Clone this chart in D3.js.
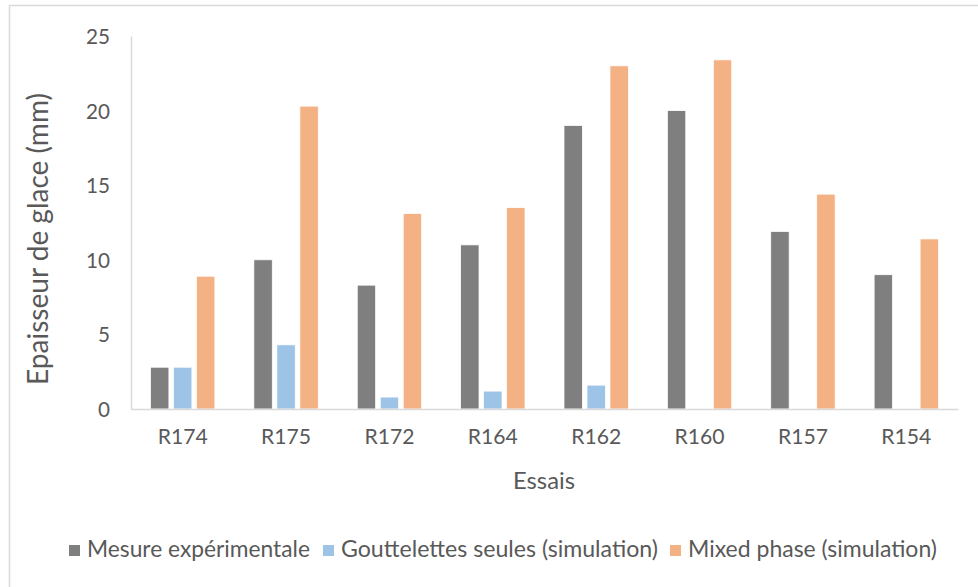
<!DOCTYPE html>
<html>
<head>
<meta charset="utf-8">
<script src="https://cdn.jsdelivr.net/npm/d3@7"></script>
<style>
  html, body { margin: 0; padding: 0; background: #fff; }
  svg { display: block; }
  text { font-family: Lato, "Open Sans", sans-serif; fill: #595959; }
</style>
</head>
<body>
<svg id="chart" width="978" height="587"></svg>
<script>
const categories = ["R174", "R175", "R172", "R164", "R162", "R160", "R157", "R154"];
const seriesNames = ["Mesure expérimentale", "Gouttelettes seules (simulation)", "Mixed phase (simulation)"];
const mesure = [2.8, 10.0, 8.3, 11.0, 19.0, 20.0, 11.9, 9.0];
const gouttelettes = [2.8, 4.3, 0.8, 1.2, 1.6, null, null, null];
const mixed = [8.9, 20.3, 13.1, 13.5, 23.0, 23.4, 14.4, 11.4];
const yTicks = [0, 5, 10, 15, 20, 25];
const colors = ["#7f7f7f", "#9dc3e6", "#f4b183"];
const xTitle = "Essais";
const yTitle = "Epaisseur de glace (mm)";

const seriesValues = [mesure, gouttelettes, mixed];

const svg = d3.select("#chart");
const plotLeft = 131, plotRight = 958, plotTop = 36, plotBottom = 409;

// chart frame
svg.append("rect").attr("x", 9.5).attr("y", 5.5).attr("width", 1000).attr("height", 620)
  .attr("fill", "none").attr("stroke", "#d9d9d9").attr("stroke-width", 1.5);

const x0 = d3.scaleBand().domain(categories).range([plotLeft, plotRight]).paddingInner(0).paddingOuter(0);
const x1 = d3.scaleBand().domain(d3.range(seriesNames.length)).range([0, x0.bandwidth()])
  .paddingInner(0.2).paddingOuter(0.848);
const y = d3.scaleLinear().domain([0, 25]).range([plotBottom, plotTop]);

function fitText(sel, target) {
  let fs = parseFloat(sel.attr("font-size"));
  const w = sel.node().getComputedTextLength();
  if (w > 0) sel.attr("font-size", (fs * target / w).toFixed(2));
}
function fitSize(sel, target, fs) {
  const w = sel.node().getComputedTextLength();
  return w > 0 ? fs * target / w : fs;
}

// bars
seriesValues.forEach((vals, si) => {
  svg.append("g").selectAll("rect")
    .data(categories.map((c, i) => ({c, v: vals[i]})).filter(d => d.v != null))
    .join("rect")
    .attr("x", d => x0(d.c) + x1(si))
    .attr("width", x1.bandwidth())
    .attr("y", d => y(d.v))
    .attr("height", d => y(0) - y(d.v))
    .attr("fill", colors[si])
    .attr("stroke", "#fff").attr("stroke-width", 0.75);
});

// y axis
const yAxis = svg.append("g").attr("transform", `translate(${plotLeft},0)`)
  .call(d3.axisLeft(y).tickValues(yTicks).tickSize(0).tickPadding(21));
yAxis.select(".domain").attr("stroke", "#d9d9d9").attr("stroke-width", 1.5);
const yLabels = yAxis.selectAll("text").attr("font-family", "Lato").attr("font-size", 21)
  .attr("fill", "#595959").attr("dy", "0.36em");
const yfs = fitSize(yLabels.filter(d => d === 25), 24, 21);
yLabels.attr("font-size", yfs.toFixed(2));

// x axis
const xAxis = svg.append("g").attr("transform", `translate(0,${plotBottom})`)
  .call(d3.axisBottom(x0).tickSize(0).tickPadding(20));
xAxis.select(".domain").attr("stroke", "#d9d9d9").attr("stroke-width", 1.5);
const xLabels = xAxis.selectAll("text").attr("font-family", "Lato").attr("font-size", 21).attr("fill", "#595959");
const xfs = fitSize(xLabels.filter(d => d === "R174"), 50, 21);
xLabels.attr("font-size", xfs.toFixed(2));

// axis titles
const xt = svg.append("text").attr("x", 544).attr("y", 489).attr("text-anchor", "middle")
  .attr("font-size", 22).text(xTitle);
fitText(xt, 62);

const yt = svg.append("text").attr("transform", "translate(48,239) rotate(-90)")
  .attr("text-anchor", "middle").attr("font-size", 24).text(yTitle);
fitText(yt, 292);

// legend
const legendX = [69, 323, 670];
const legendW = [223, 317, 249];
seriesNames.forEach((name, i) => {
  const g = svg.append("g");
  g.append("rect").attr("x", legendX[i]).attr("y", 545).attr("width", 11).attr("height", 11)
    .attr("fill", colors[i]);
  const t = g.append("text").attr("x", legendX[i] + 18).attr("y", 557).attr("font-size", 20)
    .text(name);
  fitText(t, legendW[i]);
});
</script>
</body>
</html>
